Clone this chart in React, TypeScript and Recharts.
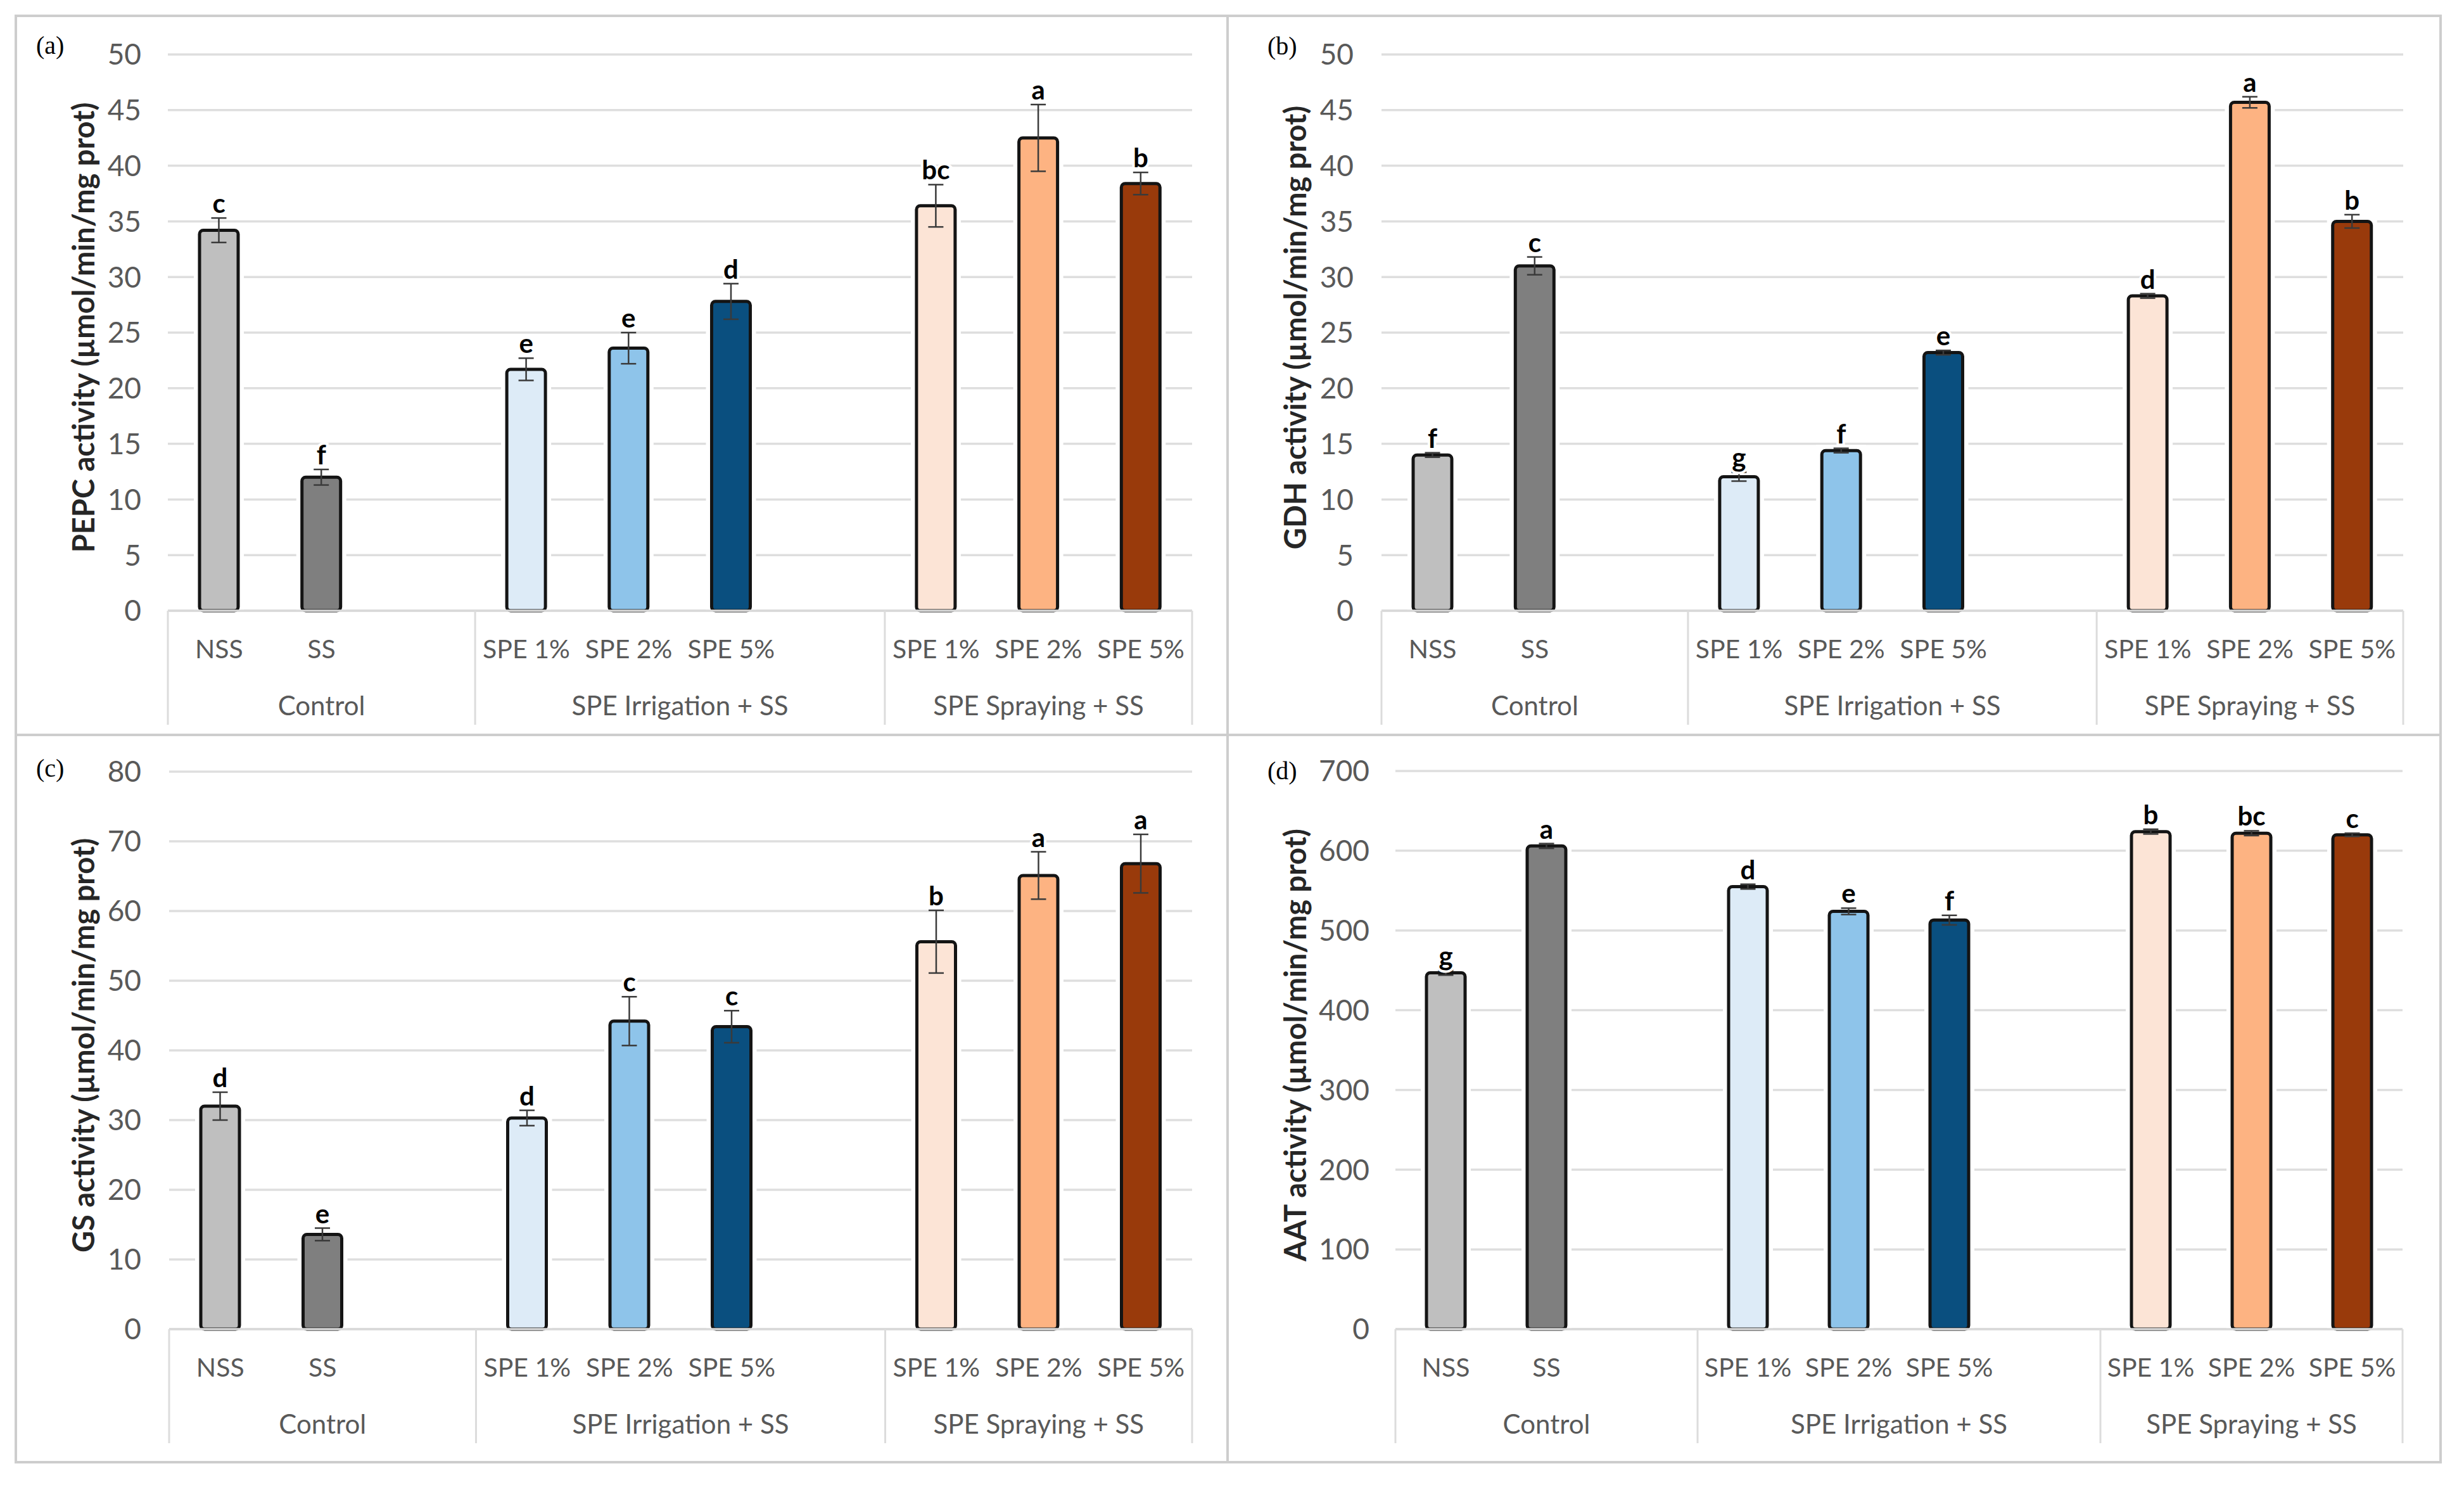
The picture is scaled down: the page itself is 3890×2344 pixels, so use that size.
import React from "react";
import { Bar, BarChart, CartesianGrid, Cell, ErrorBar, LabelList, XAxis, YAxis } from "recharts";

const FONT = "Lato, 'Open Sans', sans-serif";

const groupNames = ["Control", "SPE Irrigation + SS", "SPE Spraying + SS"];
const slotLabels = ["NSS", "SS", "", "SPE 1%", "SPE 2%", "SPE 5%", "", "SPE 1%", "SPE 2%", "SPE 5%"];
const slotGroup = [0, 0, 0, 1, 1, 1, 1, 2, 2, 2];
const slotColors = ["#BFBFBF", "#7F7F7F", "#fff", "#DDEBF7", "#8EC4EA", "#0A4F7F", "#fff", "#FCE4D6", "#FDB382", "#993A0B"];

// (a) PEPC
const pepcValues = [34.2, 12.0, null, 21.7, 23.6, 27.8, null, 36.4, 42.5, 38.4];
const pepcErrors = [1.1, 0.7, null, 1.0, 1.4, 1.6, null, 1.9, 3.0, 1.0];
const pepcLetters = ["c", "f", "", "e", "e", "d", "", "bc", "a", "b"];
const pepcTicks = [0, 5, 10, 15, 20, 25, 30, 35, 40, 45, 50];

// (b) GDH
const gdhValues = [14.0, 31.0, null, 12.05, 14.4, 23.2, null, 28.3, 45.7, 35.0];
const gdhErrors = [0.2, 0.8, null, 0.4, 0.2, 0.2, null, 0.2, 0.5, 0.6];
const gdhLetters = ["f", "c", "", "g", "f", "e", "", "d", "a", "b"];
const gdhTicks = [0, 5, 10, 15, 20, 25, 30, 35, 40, 45, 50];

// (c) GS
const gsValues = [32.0, 13.6, null, 30.3, 44.2, 43.4, null, 55.6, 65.1, 66.8];
const gsErrors = [2.0, 0.9, null, 1.1, 3.5, 2.3, null, 4.5, 3.4, 4.2];
const gsLetters = ["d", "e", "", "d", "c", "c", "", "b", "a", "a"];
const gsTicks = [0, 10, 20, 30, 40, 50, 60, 70, 80];

// (d) AAT
const aatValues = [447, 606, null, 555, 524, 513, null, 624, 622, 620];
const aatErrors = [3, 3, null, 3, 4, 6, null, 3, 3, 2];
const aatLetters = ["g", "a", "", "d", "e", "f", "", "b", "bc", "c"];
const aatTicks = [0, 100, 200, 300, 400, 500, 600, 700];

const panels = [
  { tag: "(a)", title: "PEPC activity (µmol/min/mg prot)", values: pepcValues, errors: pepcErrors, letters: pepcLetters, ticks: pepcTicks,
    left: 25, top: 25, width: 1913, height: 1135, yAxisWidth: 240, right: 56, plotTop: 61, xAxisHeight: 196, tagX: 32, tagY: 47, tickGap: 42 },
  { tag: "(b)", title: "GDH activity (µmol/min/mg prot)", values: gdhValues, errors: gdhErrors, letters: gdhLetters, ticks: gdhTicks,
    left: 1938, top: 25, width: 1915, height: 1135, yAxisWidth: 243, right: 59, plotTop: 61, xAxisHeight: 196, tagX: 63, tagY: 48, tickGap: 44 },
  { tag: "(c)", title: "GS activity (µmol/min/mg prot)", values: gsValues, errors: gsErrors, letters: gsLetters, ticks: gsTicks,
    left: 25, top: 1160, width: 1913, height: 1148, yAxisWidth: 242, right: 56, plotTop: 58, xAxisHeight: 210, tagX: 32, tagY: 53, tickGap: 44 },
  { tag: "(d)", title: "AAT activity (µmol/min/mg prot)", values: aatValues, errors: aatErrors, letters: aatLetters, ticks: aatTicks,
    left: 1938, top: 1160, width: 1915, height: 1148, yAxisWidth: 265, right: 60, plotTop: 57, xAxisHeight: 210, tagX: 63, tagY: 57, tickGap: 41 },
];

function BarShape(p: any) {
  if (p.value == null || !p.height) return null;
  const { x, y, width, height, fill } = p;
  return (
    <g>
      <rect x={x - 9} y={y - 9} width={width + 18} height={height + 9} fill="#fff" />
      <rect x={x} y={y} width={width} height={height} rx={6} ry={6} fill={fill} stroke="#141414" strokeWidth={5} />
    </g>
  );
}

function Panel({ spec }: { spec: any }) {
  const { width, height, yAxisWidth, right, plotTop, xAxisHeight, values, errors, letters, ticks, title, tag, tagX, tagY, tickGap } = spec;
  const plotWidth = width - yAxisWidth - right;
  const slotW = plotWidth / slotLabels.length;
  const plotBottom = height - xAxisHeight;
  const rows = slotLabels.map((label, i) => ({ slot: i, label, value: values[i], err: errors[i] }));

  const XTick = (props: any) => {
    const { x } = props;
    const i = props.payload.value as number;
    const g = slotGroup[i];
    const first = slotGroup.indexOf(g) === i;
    const last = i === slotLabels.length - 1;
    const groupLen = slotGroup.filter((v) => v === g).length;
    return (
      <g>
        <text x={x} y={plotBottom + 59} textAnchor="middle" dominantBaseline="central" fill="#595959" fontSize={41} fontFamily={FONT}>
          {slotLabels[i]}
        </text>
        {first && <line x1={x - slotW / 2} x2={x - slotW / 2} y1={plotBottom} y2={plotBottom + 180} stroke="#dcdcdc" strokeWidth={3} />}
        {first && (
          <text x={x - slotW / 2 + (groupLen * slotW) / 2} y={plotBottom + 149} textAnchor="middle" dominantBaseline="central" fill="#595959" fontSize={42} fontFamily={FONT}>
            {groupNames[g]}
          </text>
        )}
        {last && <line x1={x + slotW / 2} x2={x + slotW / 2} y1={plotBottom} y2={plotBottom + 180} stroke="#dcdcdc" strokeWidth={3} />}
      </g>
    );
  };

  const LetterLabel = (props: any) => {
    const { x, y, width: w, height: h, value } = props;
    const slot = value as number;
    const v = values[slot];
    if (v == null || !letters[slot]) return null;
    const errPx = (errors[slot] * h) / v;
    return (
      <text x={x + w / 2} y={y - errPx - 8} textAnchor="middle" fill="#000" fontSize={42} fontWeight={700} fontFamily={FONT}
        stroke="#fff" strokeWidth={8} paintOrder="stroke">
        {letters[slot]}
      </text>
    );
  };

  return (
    <div style={{ position: "absolute", left: spec.left, top: spec.top, width, height }}>
      <BarChart width={width} height={height} data={rows} margin={{ top: plotTop, right, left: 0, bottom: 0 }} barSize={61}>
        <CartesianGrid vertical={false} stroke="#dedede" strokeWidth={3.5} />
        <XAxis dataKey="slot" type="category" height={xAxisHeight} interval={0} tickLine={false} tickSize={0} tickMargin={0}
          axisLine={{ stroke: "#d9d9d9", strokeWidth: 3.5 }} tick={<XTick />} />
        <YAxis width={yAxisWidth} domain={[ticks[0], ticks[ticks.length - 1]]} ticks={ticks} interval={0} axisLine={false} tickLine={false}
          tickSize={0} tickMargin={tickGap} tick={{ fill: "#595959", fontSize: 46, fontFamily: FONT }}
          label={{
            content: () => {
              const cx = 106;
              const cy = (plotTop + plotBottom) / 2 - 8;
              return (
                <text x={cx} y={cy} transform={`rotate(-90 ${cx} ${cy})`} textAnchor="middle" dominantBaseline="central"
                  fill="#262626" fontSize={47} fontWeight={700} fontFamily={FONT}>
                  {title}
                </text>
              );
            },
          }} />
        <Bar dataKey="value" isAnimationActive={false} shape={<BarShape />}>
          {rows.map((r, i) => (
            <Cell key={i} fill={slotColors[i]} />
          ))}
          <ErrorBar dataKey="err" direction="y" width={12} stroke="#3a3a3a" strokeWidth={2.5} />
          <LabelList dataKey="slot" content={<LetterLabel />} />
        </Bar>
      </BarChart>
      <div style={{ position: "absolute", left: tagX, top: tagY, transform: "translateY(-50%)", fontFamily: "'Liberation Serif', serif", fontSize: 40, color: "#000", lineHeight: 1 }}>
        {tag}
      </div>
    </div>
  );
}

export default function App() {
  return (
    <div style={{ position: "absolute", left: 0, top: 0, width: 3890, height: 2344, background: "#fff", overflow: "hidden" }}>
      <div style={{ position: "absolute", left: 23, top: 23, width: 3832, height: 2287, boxSizing: "border-box", border: "4px solid #cdcdcd" }} />
      <div style={{ position: "absolute", left: 1936, top: 23, width: 4, height: 2287, background: "#cdcdcd" }} />
      <div style={{ position: "absolute", left: 23, top: 1158, width: 3832, height: 4, background: "#cdcdcd" }} />
      {panels.map((p) => (
        <Panel key={p.tag} spec={p} />
      ))}
    </div>
  );
}
